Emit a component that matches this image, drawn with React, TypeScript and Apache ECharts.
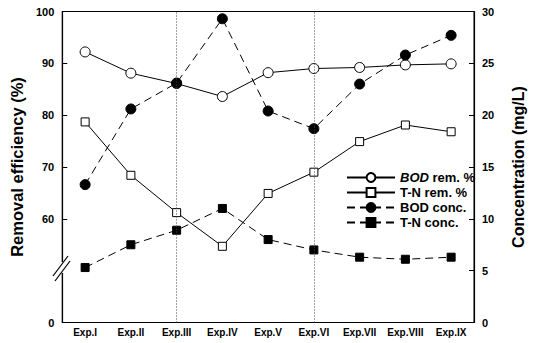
import React, { useEffect, useRef } from "react";
import * as echarts from "echarts";

const categories = ["Exp.I", "Exp.II", "Exp.III", "Exp.IV", "Exp.V", "Exp.VI", "Exp.VII", "Exp.VIII", "Exp.IX"];
// Removal efficiency (%), left axis
const bodRemoval = [92.2, 88.1, 86.1, 83.6, 88.2, 89.0, 89.2, 89.7, 89.9];
const tnRemoval = [78.7, 68.4, 61.2, 54.7, 64.9, 69.0, 74.9, 78.1, 76.8];
// Concentration (mg/L), right axis
const bodConc = [13.3, 20.6, 23.1, 29.3, 20.4, 18.7, 23.0, 25.8, 27.7];
const tnConc = [5.3, 7.5, 8.9, 11.0, 8.0, 7.0, 6.3, 6.1, 6.3];
const markedExps = ["Exp.III", "Exp.VI"];
const seriesNames = ["BOD rem. %", "T-N rem. %", "BOD conc.", "T-N conc."];

const FONT = "'Liberation Sans', Arial, sans-serif";

export default function App() {
  const ref = useRef<HTMLDivElement>(null);
  useEffect(() => {
    if (!ref.current) return;
    const chart = echarts.init(ref.current, undefined, { renderer: "svg" });
    const dash = [8, 5];
    chart.setOption({
      animation: false,
      backgroundColor: "#fff",
      textStyle: { fontFamily: FONT, color: "#000" },
      grid: { left: 61, right: 48, top: 11.5, bottom: 20.5, show: true, borderColor: "#000", borderWidth: 1 },
      legend: {
        orient: "vertical",
        left: 341,
        top: 166,
        itemWidth: 48,
        itemHeight: 11,
        itemGap: 2,
        data: seriesNames,
        textStyle: {
          fontFamily: FONT,
          fontSize: 13,
          fontWeight: "bold",
          color: "#000",
          lineHeight: 13,
          rich: {
            i: { fontFamily: FONT, fontSize: 13, fontWeight: "bold", fontStyle: "italic", color: "#000" },
          },
        },
        formatter: (name: string) => (name === "BOD rem. %" ? "{i|BOD} rem. %" : name),
      },
      xAxis: {
        type: "category",
        data: categories,
        boundaryGap: true,
        axisLine: { lineStyle: { color: "#000", width: 1.2 } },
        axisTick: { alignWithLabel: true, inside: true, length: 5, lineStyle: { color: "#000" } },
        axisLabel: { interval: 0, fontFamily: FONT, fontSize: 10, fontWeight: "bold", color: "#000", margin: 5 },
        splitLine: { show: false },
      },
      yAxis: [
        {
          type: "value",
          min: 40,
          max: 100,
          interval: 10,
          position: "left",
          name: "Removal efficiency (%)",
          nameLocation: "middle",
          nameGap: 33,
          nameTextStyle: { fontFamily: FONT, fontSize: 16.5, fontWeight: "bold", color: "#000" },
          axisLine: { show: true, lineStyle: { color: "#000", width: 1.2 } },
          axisTick: { show: true, inside: true, length: 5, lineStyle: { color: "#000" }, customValues: [40, 60, 70, 80, 90, 100] },
          axisLabel: {
            fontFamily: FONT,
            fontSize: 11,
            fontWeight: "bold",
            color: "#000",
            margin: 8,
            formatter: (v: number) => (v === 40 ? "0" : v === 50 ? "" : String(v)),
          },
          splitLine: { show: false },
        },
        {
          type: "value",
          min: 0,
          max: 30,
          interval: 5,
          position: "right",
          name: "Concentration (mg/L)",
          nameLocation: "middle",
          nameGap: 36,
          nameRotate: 90,
          nameTextStyle: { fontFamily: FONT, fontSize: 16, fontWeight: "bold", color: "#000" },
          axisLine: { show: true, lineStyle: { color: "#000", width: 1.2 } },
          axisTick: { show: true, inside: true, length: 5, lineStyle: { color: "#000" } },
          axisLabel: { fontFamily: FONT, fontSize: 11, fontWeight: "bold", color: "#000", margin: 8 },
          splitLine: { show: false },
        },
      ],
      series: [
        {
          name: seriesNames[0],
          type: "line",
          yAxisIndex: 0,
          data: bodRemoval,
          symbol: "circle",
          symbolSize: 10,
          itemStyle: { color: "#fff", borderColor: "#000", borderWidth: 1 },
          lineStyle: { color: "#000", width: 1 },
          markLine: {
            silent: true,
            symbol: ["none", "none"],
            label: { show: false },
            lineStyle: { color: "#444", type: [1, 2], width: 1 },
            data: markedExps.map((e) => ({ xAxis: e })),
          },
        },
        {
          name: seriesNames[1],
          type: "line",
          yAxisIndex: 0,
          data: tnRemoval,
          symbol: "rect",
          symbolSize: 8,
          itemStyle: { color: "#fff", borderColor: "#000", borderWidth: 1 },
          lineStyle: { color: "#000", width: 1 },
        },
        {
          name: seriesNames[2],
          type: "line",
          yAxisIndex: 1,
          data: bodConc,
          symbol: "circle",
          symbolSize: 10,
          itemStyle: { color: "#000", borderColor: "#000", borderWidth: 1 },
          lineStyle: { color: "#000", width: 1, type: dash },
        },
        {
          name: seriesNames[3],
          type: "line",
          yAxisIndex: 1,
          data: tnConc,
          symbol: "rect",
          symbolSize: 8,
          itemStyle: { color: "#000", borderColor: "#000", borderWidth: 1 },
          lineStyle: { color: "#000", width: 1, type: dash },
        },
      ],
      graphic: [
        { type: "rect", shape: { x: 57, y: 262, width: 9, height: 11 }, style: { fill: "#fff" }, z: 100 },
        { type: "line", shape: { x1: 53, y1: 276, x2: 68, y2: 256 }, style: { stroke: "#000", lineWidth: 1.2 }, z: 101 },
        { type: "line", shape: { x1: 55, y1: 281, x2: 70, y2: 261 }, style: { stroke: "#000", lineWidth: 1.2 }, z: 101 },
      ],
    });
    return () => chart.dispose();
  }, []);
  return <div ref={ref} style={{ position: "fixed", left: 0, top: 0, width: 534, height: 343 }} />;
}
